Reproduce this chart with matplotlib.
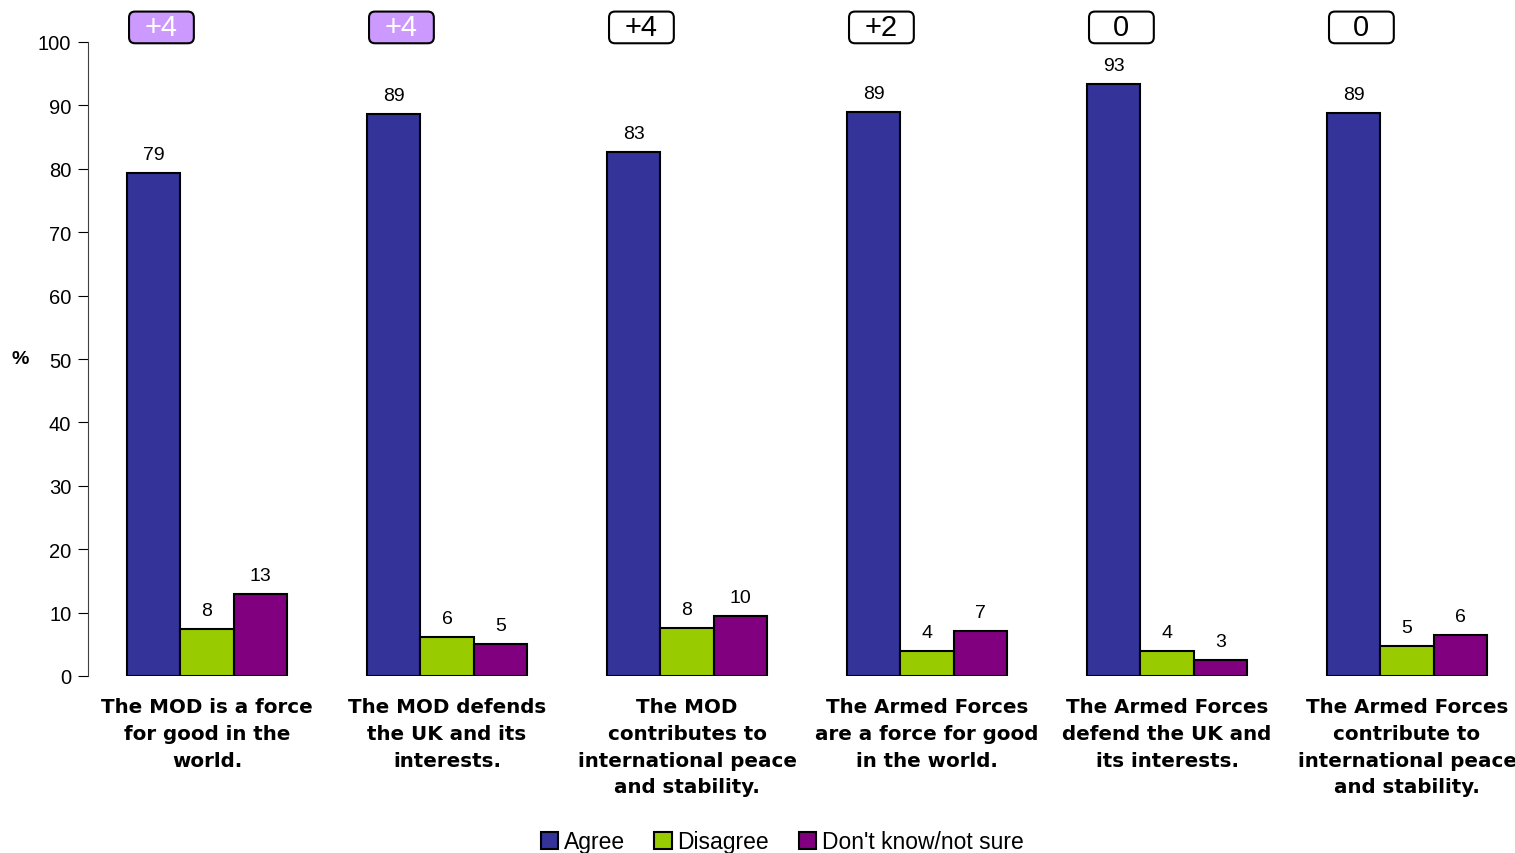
import numpy as np
from matplotlib import pyplot as plt
from matplotlib.patches import FancyBboxPatch

plt.rcParams['font.family'] = ['Liberation Sans', 'DejaVu Sans']

categories = ["The MOD is a force\nfor good in the\nworld.",
              "The MOD defends\nthe UK and its\ninterests.",
              "The MOD\ncontributes to\ninternational peace\nand stability.",
              "The Armed Forces\nare a force for good\nin the world.",
              "The Armed Forces\ndefend the UK and\nits interests.",
              "The Armed Forces\ncontribute to\ninternational peace\nand stability."]
agree = [79.3, 88.6, 82.6, 89.0, 93.4, 88.8]
disagree = [7.4, 6.1, 7.6, 3.9, 3.9, 4.7]
dont_know = [12.9, 5.0, 9.5, 7.1, 2.5, 6.5]
agree_lbl = [79, 89, 83, 89, 93, 89]
disagree_lbl = [8, 6, 8, 4, 4, 5]
dont_know_lbl = [13, 5, 10, 7, 3, 6]
change = ["+4", "+4", "+4", "+2", "0", "0"]
highlight = [True, True, False, False, False, False]

colors = ["#333399", "#99CC00", "#800080"]
names = ["Agree", "Disagree", "Don't know/not sure"]

fig = plt.figure(figsize=(15.15, 8.54), dpi=100)
ax = fig.add_axes([88 / 1515, 1 - 677 / 854, 1 - 88 / 1515, (677 - 43) / 854])

x = np.arange(len(categories))
w = 0.223
series = [agree, disagree, dont_know]
labels = [agree_lbl, disagree_lbl, dont_know_lbl]
for i, (vals, lbls) in enumerate(zip(series, labels)):
    pos = x + (i - 1) * w
    ax.bar(pos, vals, w, color=colors[i], edgecolor="black", linewidth=1.5,
           label=names[i])
    for p, v, l in zip(pos, vals, lbls):
        ax.text(p, v + 1.6, str(l), ha="center", va="bottom", fontsize=14)

# change boxes above each group (65 x 32 px)
bw, bh = 0.27, 5.0
for xi, c, h, cat in zip(x, change, highlight, categories):
    cx = xi - 0.19
    box = FancyBboxPatch((cx - bw / 2, 99.8), bw, bh,
                         boxstyle="round,pad=0,rounding_size=0.025",
                         mutation_aspect=38, fc="#CC99FF" if h else "white",
                         ec="black", lw=1.5, clip_on=False)
    ax.add_patch(box)
    ax.text(cx, 99.8 + bh / 2, c, ha="center", va="center", fontsize=21,
            color="white" if h else "black", clip_on=False)
    ax.text(xi, -3.3, cat, ha="center", va="top", family="DejaVu Sans",
            fontsize=14.3, fontweight="bold", linespacing=1.52)

ax.set_xlim(-0.496, 5.45)
ax.set_ylim(0, 100)
ax.set_yticks(range(0, 101, 10))
ax.tick_params(axis="y", direction="out", length=7, labelsize=14.5, pad=5)
ax.set_xticks([])
for s in ["top", "right", "bottom"]:
    ax.spines[s].set_visible(False)
ax.spines["left"].set_color("#404040")
fig.text(20 / 1515, 1 - 360 / 854, "%", fontsize=14, fontweight="bold",
         ha="center", va="center")

fig.legend(loc="center", bbox_to_anchor=(782 / 1515, 1 - 843 / 854), ncol=3,
           frameon=False, fontsize=16.5, handlelength=0.75, handleheight=0.75,
           handletextpad=0.25, columnspacing=1.3)

fig.savefig("out.png", dpi=100)
